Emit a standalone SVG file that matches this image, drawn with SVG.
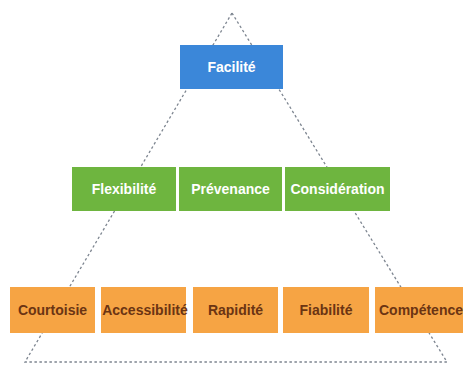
<svg xmlns="http://www.w3.org/2000/svg" width="463" height="366" viewBox="0 0 463 366">
<style>
.t{font-family:"Liberation Sans",Arial,sans-serif;font-weight:bold;font-size:14px;text-anchor:middle;dominant-baseline:central}
.w{fill:#ffffff}
.b{fill:#6b3413}
.blue{fill:#3b87d9}
.green{fill:#6eb53f}
.orange{fill:#f6a444}
.edge{fill:none;stroke:#7d8590;stroke-width:1.3;stroke-dasharray:2.5 2.5}
</style>
<rect width="463" height="366" fill="#ffffff"/>
<g id="connectors">
<polygon class="edge" points="232,13 447,362 25,362"/>
</g>
<g id="facilite"><rect class="blue" x="180" y="45" width="103" height="44"/><text class="t w" x="231.5" y="67">Facilité</text></g>
<g id="flexibilite"><rect class="green" x="72" y="167" width="104" height="44"/><text class="t w" x="124" y="189">Flexibilité</text></g>
<g id="prevenance"><rect class="green" x="179" y="167" width="103" height="44"/><text class="t w" x="230.5" y="189">Prévenance</text></g>
<g id="consideration"><rect class="green" x="285" y="167" width="105" height="44"/><text class="t w" x="337.5" y="189">Considération</text></g>
<g id="courtoisie"><rect class="orange" x="10" y="287" width="85" height="46"/><text class="t b" x="52.5" y="310">Courtoisie</text></g>
<g id="accessibilite"><rect class="orange" x="101" y="287" width="85" height="46"/><text class="t b" x="145" y="310">Accessibilité</text></g>
<g id="rapidite"><rect class="orange" x="193" y="287" width="85" height="46"/><text class="t b" x="235.5" y="310">Rapidité</text></g>
<g id="fiabilite"><rect class="orange" x="283" y="287" width="86" height="46"/><text class="t b" x="326" y="310">Fiabilité</text></g>
<g id="competence"><rect class="orange" x="375" y="287" width="88" height="46"/><text class="t b" x="421" y="310">Compétence</text></g>
</svg>
